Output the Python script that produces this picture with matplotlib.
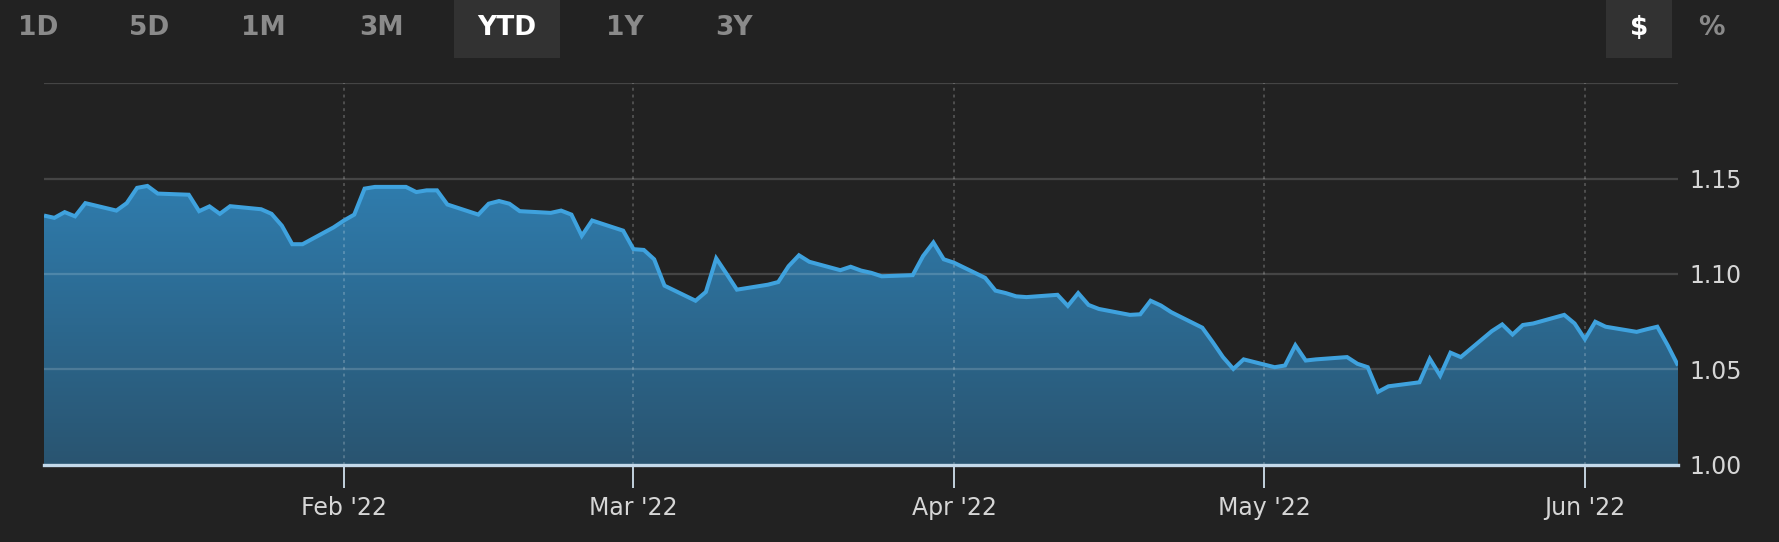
import numpy as np
import pandas as pd
import matplotlib
matplotlib.use("Agg")
import matplotlib.pyplot as plt
import matplotlib.dates as mdates
from matplotlib.patches import Rectangle
from matplotlib.colors import LinearSegmentedColormap

# ---------------- data ----------------
dates = [
    "2022-01-03", "2022-01-04", "2022-01-05", "2022-01-06", "2022-01-07",
    "2022-01-10", "2022-01-11", "2022-01-12", "2022-01-13", "2022-01-14",
    "2022-01-17", "2022-01-18", "2022-01-19", "2022-01-20", "2022-01-21",
    "2022-01-24", "2022-01-25", "2022-01-26", "2022-01-27", "2022-01-28",
    "2022-01-31", "2022-02-01", "2022-02-02", "2022-02-03", "2022-02-04",
    "2022-02-07", "2022-02-08", "2022-02-09", "2022-02-10", "2022-02-11",
    "2022-02-14", "2022-02-15", "2022-02-16", "2022-02-17", "2022-02-18",
    "2022-02-21", "2022-02-22", "2022-02-23", "2022-02-24", "2022-02-25",
    "2022-02-28", "2022-03-01", "2022-03-02", "2022-03-03", "2022-03-04",
    "2022-03-07", "2022-03-08", "2022-03-09", "2022-03-10", "2022-03-11",
    "2022-03-14", "2022-03-15", "2022-03-16", "2022-03-17", "2022-03-18",
    "2022-03-21", "2022-03-22", "2022-03-23", "2022-03-24", "2022-03-25",
    "2022-03-28", "2022-03-29", "2022-03-30", "2022-03-31", "2022-04-01",
    "2022-04-04", "2022-04-05", "2022-04-06", "2022-04-07", "2022-04-08",
    "2022-04-11", "2022-04-12", "2022-04-13", "2022-04-14", "2022-04-15",
    "2022-04-18", "2022-04-19", "2022-04-20", "2022-04-21", "2022-04-22",
    "2022-04-25", "2022-04-26", "2022-04-27", "2022-04-28", "2022-04-29",
    "2022-05-02", "2022-05-03", "2022-05-04", "2022-05-05", "2022-05-06",
    "2022-05-09", "2022-05-10", "2022-05-11", "2022-05-12", "2022-05-13",
    "2022-05-16", "2022-05-17", "2022-05-18", "2022-05-19", "2022-05-20",
    "2022-05-23", "2022-05-24", "2022-05-25", "2022-05-26", "2022-05-27",
    "2022-05-30", "2022-05-31", "2022-06-01", "2022-06-02", "2022-06-03",
    "2022-06-06", "2022-06-07", "2022-06-08", "2022-06-09", "2022-06-10",
]
values = [
    1.1306, 1.1294, 1.1324, 1.1302, 1.1371,
    1.1332, 1.1371, 1.1451, 1.1461, 1.1421,
    1.1415, 1.1329, 1.1354, 1.1315, 1.1355,
    1.1339, 1.1315, 1.1253, 1.1156, 1.1156,
    1.1244, 1.1280, 1.1311, 1.1447, 1.1456,
    1.1456, 1.1429, 1.1438, 1.1438, 1.1364,
    1.1311, 1.1368, 1.1382, 1.1368, 1.1329,
    1.1320, 1.1332, 1.1311, 1.1200, 1.1280,
    1.1227, 1.1130, 1.1126, 1.1077, 1.0939,
    1.0860, 1.0906, 1.1082, 1.1001, 1.0918,
    1.0944, 1.0958, 1.1041, 1.1098, 1.1064,
    1.1020, 1.1038, 1.1018, 1.1006, 1.0988,
    1.0994, 1.1094, 1.1165, 1.1077, 1.1059,
    1.0980, 1.0913, 1.0900, 1.0883, 1.0879,
    1.0891, 1.0833, 1.0900, 1.0838, 1.0817,
    1.0786, 1.0789, 1.0860, 1.0835, 1.0800,
    1.0719, 1.0644, 1.0565, 1.0503, 1.0553,
    1.0512, 1.0521, 1.0627, 1.0547, 1.0553,
    1.0565, 1.0530, 1.0512, 1.0383, 1.0412,
    1.0433, 1.0556, 1.0468, 1.0588, 1.0565,
    1.0701, 1.0736, 1.0683, 1.0733, 1.0741,
    1.0786, 1.0741, 1.0659, 1.0750, 1.0724,
    1.0697, 1.0711, 1.0724, 1.0627, 1.0521,
]
month_ticks = ["2022-02-01", "2022-03-01", "2022-04-01", "2022-05-01", "2022-06-01"]
month_labels = ["Feb '22", "Mar '22", "Apr '22", "May '22", "Jun '22"]
y_ticks = [1.00, 1.05, 1.10, 1.15, 1.20]
y_labels = ["1.00", "1.05", "1.10", "1.15", ""]
range_buttons = ["1D", "5D", "1M", "3M", "YTD", "1Y", "3Y"]
active_range = "YTD"
unit_buttons = ["$", "%"]
active_unit = "$"

# ---------------- style ----------------
BG = "#222222"
LINE = "#3fa2de"
FILL_TOP = "#2f7cad"
FILL_BOT = "#295470"
TXT = "#d6d6d6"

W, H, DPI = 1779, 542, 100
fig = plt.figure(figsize=(W / DPI, H / DPI), dpi=DPI, facecolor=BG)

ax_l, ax_r, ax_t, ax_b = 44, 1678, 83, 465
ax = fig.add_axes([ax_l / W, (H - ax_b) / H, (ax_r - ax_l) / W, (ax_b - ax_t) / H])
ax.set_facecolor(BG)

x = mdates.date2num(pd.to_datetime(dates))
y = np.array(values)
ymin, ymax = 1.00, 1.20

# gradient fill clipped to the area
poly = ax.fill_between(x, y, ymin, facecolor="none", edgecolor="none", zorder=1)
cmap = LinearSegmentedColormap.from_list("g", [FILL_BOT, FILL_TOP])
grad = np.linspace(0, 1, 256).reshape(-1, 1)
img = ax.imshow(grad, cmap=cmap, aspect="auto", origin="lower",
                extent=[x[0], x[-1], ymin, y.max()], zorder=1, interpolation="bilinear")
img.set_clip_path(poly.get_paths()[0], transform=ax.transData)

# grid
for yv in y_ticks[1:]:
    ax.axhline(yv, color="white", alpha=0.16, lw=1.6, zorder=2)
tick_x = mdates.date2num(pd.to_datetime(month_ticks))
for tx in tick_x:
    ax.axvline(tx, color="white", alpha=0.2, lw=1.4, ls=(0, (1.5, 2.0)), zorder=2)

ax.plot(x, y, color=LINE, lw=2.9, zorder=3, solid_joinstyle="miter", solid_capstyle="butt")
ax.axhline(ymin, color="#c3d9ea", lw=2.4, zorder=4, clip_on=False)

ax.set_xlim(x[0], x[-1])
ax.set_ylim(ymin, ymax)
for s in ax.spines.values():
    s.set_visible(False)

ax.set_xticks(tick_x)
ax.set_xticklabels(month_labels)
ax.tick_params(axis="x", direction="out", length=16.5, width=1.4, color="#c3d2de",
               labelsize=17, labelcolor=TXT, pad=6)
ax.yaxis.tick_right()
ax.set_yticks(y_ticks)
ax.set_yticklabels(y_labels)
ax.tick_params(axis="y", length=0, labelsize=17, labelcolor=TXT, pad=8)

# ---------------- top buttons ----------------
def fx(px):
    return px / W

def fy(py):
    return (H - py) / H

range_x = [38, 149, 263, 381, 507, 625, 734]
unit_x = [1639, 1711]
fig.patches.append(Rectangle((fx(454), fy(58)), fx(560) - fx(454), 58 / H,
                             transform=fig.transFigure, facecolor="#323232", edgecolor="none"))
fig.patches.append(Rectangle((fx(1606), fy(58)), fx(1672) - fx(1606), 58 / H,
                             transform=fig.transFigure, facecolor="#323232", edgecolor="none"))
for lab, px in zip(range_buttons, range_x):
    fig.text(fx(px), fy(28), lab, ha="center", va="center", fontsize=19, fontweight="bold",
             color="white" if lab == active_range else "#8a8a8a")
for lab, px in zip(unit_buttons, unit_x):
    fig.text(fx(px), fy(28), lab, ha="center", va="center", fontsize=19, fontweight="bold",
             color="white" if lab == active_unit else "#8a8a8a")

fig.savefig("out.png", dpi=DPI, facecolor=BG)
